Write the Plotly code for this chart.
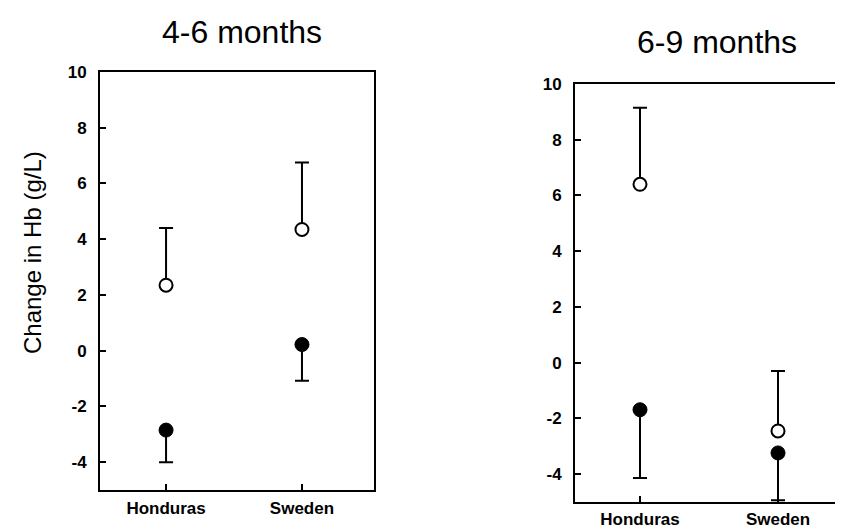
import plotly.graph_objects as go

# ---- data ----
countries = ["Honduras", "Sweden"]
# 4-6 months
open_46 = [2.35, 4.35]
open_46_err_up = [2.05, 2.4]
filled_46 = [-2.85, 0.22]
filled_46_err_down = [1.15, 1.3]
# 6-9 months
open_69 = [6.4, -2.45]
open_69_err_up = [2.75, 2.15]
filled_69 = [-1.69, -3.24]
filled_69_err_down = [2.45, 1.7]
y_ticks = [-4, -2, 0, 2, 4, 6, 8, 10]
y_tick_text = ["-4", "-2", "0", "2", "4", "6", "8", "10"]
titles = ["4-6 months", "6-9 months"]
y_title = "Change in Hb (g/L)"

# page body has an 8px margin, so the figure is placed 8px in from the window corner
OFF = 8
W, H = 851 - OFF, 531 - OFF
fig = go.Figure()

def add_panel(xa, ya, opens, open_up, filled, filled_down):
    fig.add_trace(go.Scatter(
        x=countries, y=filled, mode="markers", xaxis=xa, yaxis=ya,
        marker=dict(symbol="circle", size=14, color="black", line=dict(color="black", width=1)),
        error_y=dict(type="data", symmetric=False, array=[0, 0], arrayminus=filled_down,
                     color="black", thickness=2, width=7),
        showlegend=False))
    fig.add_trace(go.Scatter(
        x=countries, y=opens, mode="markers", xaxis=xa, yaxis=ya,
        marker=dict(symbol="circle", size=13, color="white", line=dict(color="black", width=2)),
        error_y=dict(type="data", symmetric=False, array=open_up, arrayminus=[0, 0],
                     color="black", thickness=2, width=7),
        showlegend=False))

add_panel("x", "y", open_46, open_46_err_up, filled_46, filled_46_err_down)
add_panel("x2", "y2", open_69, open_69_err_up, filled_69, filled_69_err_down)

axis_common = dict(showgrid=False, zeroline=False, showline=True, linecolor="black",
                   linewidth=2, ticks="inside", tickcolor="black", ticklen=6, tickwidth=1.5,
                   automargin=False)
ytickfont = dict(family="Liberation Sans, Arial", size=17, color="black", weight="bold")
xtickfont = dict(family="Liberation Sans, Arial", size=17, color="black", weight="bold")

def px_x(p):
    return (p - OFF) / W

def px_y(p):
    return 1 - (p - OFF) / H

fig.update_layout(
    width=W, height=H, margin=dict(l=0, r=0, t=0, b=0, autoexpand=False),
    paper_bgcolor="white", plot_bgcolor="white",
    xaxis=dict(domain=[px_x(100), px_x(374)], range=[-0.486, 1.53], type="category",
               mirror=True, tickfont=xtickfont, anchor="y", ticklabelstandoff=2, **axis_common),
    yaxis=dict(domain=[px_y(490), px_y(72)], range=[-5, 10], tickvals=y_ticks, ticktext=y_tick_text,
               mirror=True, tickfont=ytickfont, anchor="x", ticklabelstandoff=8, **axis_common),
    xaxis2=dict(domain=[px_x(575), 1.0], range=[-0.471, 1.529], type="category",
                mirror=True, tickfont=xtickfont, anchor="y2", ticklabelstandoff=1, **axis_common),
    yaxis2=dict(domain=[px_y(502), px_y(84)], range=[-5, 10], tickvals=y_ticks, ticktext=y_tick_text,
                mirror=False, tickfont=ytickfont, anchor="x2", ticklabelstandoff=8, **axis_common),
)

title_font = dict(family="Liberation Sans, Arial", size=32, color="black")
fig.add_annotation(text=titles[0], x=px_x(242), y=px_y(32), xref="paper", yref="paper",
                   showarrow=False, font=title_font, xanchor="center", yanchor="middle")
fig.add_annotation(text=titles[1], x=px_x(717), y=px_y(42), xref="paper", yref="paper",
                   showarrow=False, font=title_font, xanchor="center", yanchor="middle")
fig.add_annotation(text=y_title, x=px_x(32), y=px_y(253), xref="paper", yref="paper",
                   showarrow=False, textangle=-90, xanchor="center", yanchor="middle",
                   font=dict(family="Liberation Sans, Arial", size=24, color="black"))

fig.write_html("out.html")
